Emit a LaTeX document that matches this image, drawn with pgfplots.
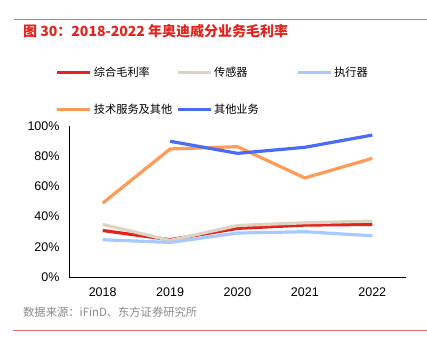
\documentclass[border=0pt]{standalone}
\usepackage{pgfplots}
\pgfplotsset{compat=1.18}
\usepackage{fontspec}
\setmainfont{Liberation Sans}
\newfontfamily\cjk{Noto Sans CJK SC}
\definecolor{cRed}{HTML}{E3231C}
\definecolor{cBeige}{HTML}{DCD3C0}
\definecolor{cLBlue}{HTML}{A6C9FF}
\definecolor{cOrange}{HTML}{FF9B57}
\definecolor{cBlue}{HTML}{4A6BF5}
\definecolor{cLine}{HTML}{EE6A66}
\definecolor{cGray}{HTML}{8A8A8A}
\begin{document}
\begin{tikzpicture}
\begin{axis}[
  scale only axis, width=337bp, height=151bp,
  xmin=-0.5, xmax=4.5, ymin=0, ymax=100,
  axis x line*=bottom, axis y line*=left,
  axis line style={line width=0.9bp, black},
  xtick={0,...,4}, xticklabels={2018,2019,2020,2021,2022},
  extra x ticks={0.5,1.5,2.5,3.5,4.5}, extra x tick labels={},
  extra x tick style={major tick length=3.5bp, tick style={black, line width=0.8bp}},
  xtick style={draw=none},
  ytick={0,20,...,100},
  yticklabel={\pgfmathprintnumber{\tick}\%},
  ytick style={draw=none},
  tick label style={font=\fontsize{12.5bp}{14bp}\selectfont},
  /pgf/number format/assume math mode=true,
  yticklabel style={xshift=-6bp},
  xticklabel style={yshift=-7bp},
  legend columns=3,
  legend style={draw=none, fill=none, at={(-0.04,1.0)}, anchor=south west, yshift=9bp,
    font=\fontsize{11.2bp}{13bp}\selectfont\cjk, row sep=22bp, column sep=0bp, inner sep=0pt},
  legend cell align=left,
  legend image code/.code={\draw[#1, line width=3.2bp] (0,0) -- (33bp,0);},
  every axis plot/.append style={line width=3.2bp, mark=none},
]
\addplot[cRed] coordinates {(0,30.8) (1,24.7) (2,32.2) (3,34.4) (4,34.8)};
\addlegendentry{\makebox[80bp][l]{综合毛利率}}
\addplot[cBeige] coordinates {(0,34.8) (1,24.2) (2,34.1) (3,35.9) (4,37.0)};
\addlegendentry{\makebox[80bp][l]{传感器}}
\addplot[cLBlue] coordinates {(0,24.7) (1,22.9) (2,29.1) (3,30.0) (4,27.3)};
\addlegendentry{\makebox[80bp][l]{执行器}}
\addplot[cOrange] coordinates {(0,48.9) (1,84.8) (2,86.3) (3,65.6) (4,78.6)};
\addlegendentry{\makebox[80bp][l]{技术服务及其他}}
\addplot[cBlue] coordinates {(1,89.9) (2,81.9) (3,85.9) (4,94.0)};
\addlegendentry{\makebox[80bp][l]{其他业务}}
\coordinate (O) at (rel axis cs:0,0);
\end{axis}
\begin{scope}[shift={(O)}, x=1bp, y=1bp]
\begin{scope}[shift={(-69,-75)}]
\draw[cLine, line width=0.8bp] (14,333) -- (427,333);
\node[anchor=west, inner sep=0pt, text=cRed, font=\fontsize{14bp}{16bp}\selectfont\cjk\bfseries] at (23,321) {图 30：2018-2022 年奥迪威分业务毛利率};
\node[anchor=west, inner sep=0pt, text=cGray, font=\fontsize{11.3bp}{13bp}\selectfont\cjk] at (23,39.5) {数据来源：iFinD、东方证券研究所};
\draw[cLine, line width=0.8bp] (13,21.5) -- (427,21.5);
\pgfresetboundingbox
\useasboundingbox (0,0) rectangle (427,352);
\end{scope}
\end{scope}
\end{tikzpicture}
\end{document}
